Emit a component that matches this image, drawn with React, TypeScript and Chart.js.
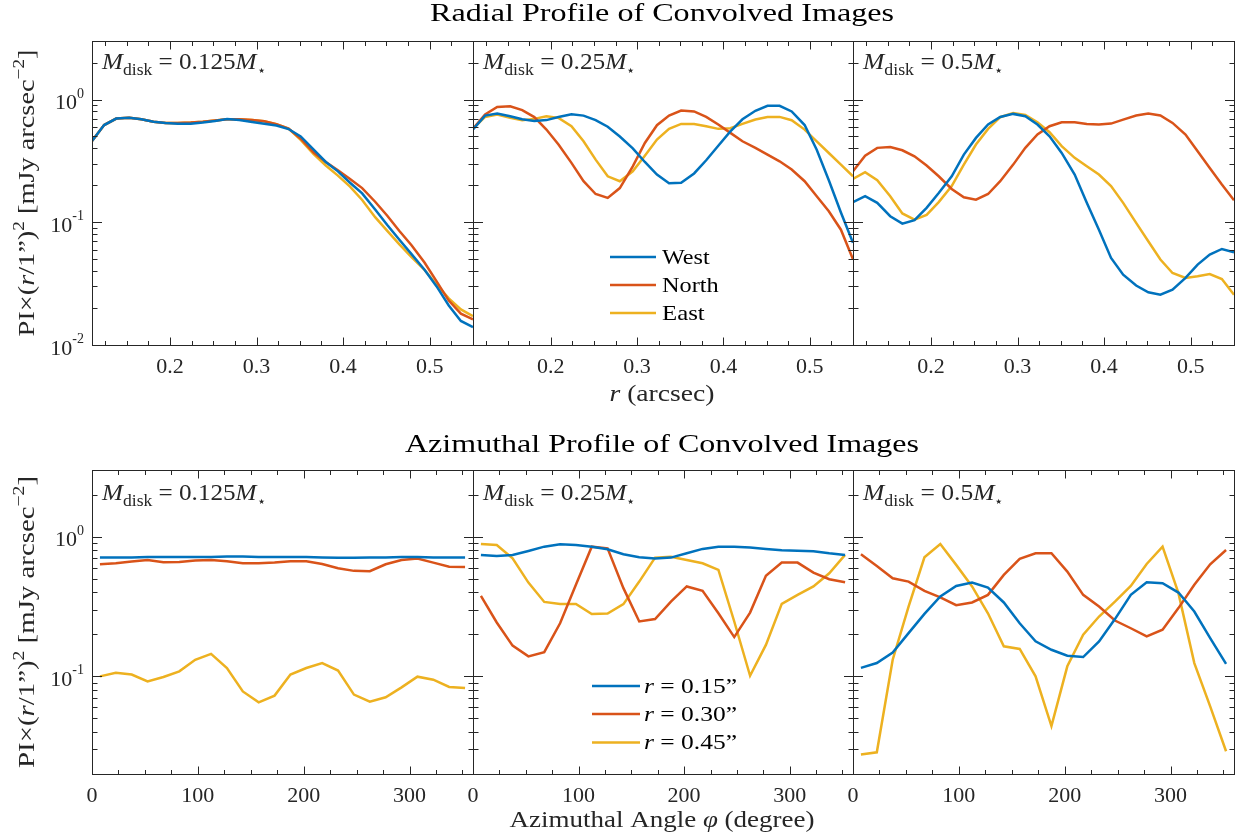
import React, { useEffect, useRef } from 'react';
import { Chart, registerables } from 'chart.js';

Chart.register(...registerables);

// ---------------- DATA ----------------
const radialX = [0.110, 0.124, 0.138, 0.153, 0.167, 0.181, 0.195, 0.209, 0.224, 0.238, 0.252, 0.266, 0.280, 0.295, 0.309, 0.323, 0.337, 0.351, 0.366, 0.380, 0.394, 0.408, 0.422, 0.437, 0.451, 0.465, 0.479, 0.494, 0.508, 0.522, 0.536, 0.550];

const west125 = [0.46, 0.62, 0.70, 0.71, 0.69, 0.66, 0.645, 0.635, 0.635, 0.65, 0.67, 0.695, 0.68, 0.655, 0.635, 0.615, 0.575, 0.50, 0.39, 0.31, 0.26, 0.21, 0.172, 0.127, 0.095, 0.072, 0.055, 0.041, 0.030, 0.021, 0.0157, 0.014];
const north125 = [0.46, 0.62, 0.70, 0.71, 0.69, 0.66, 0.645, 0.645, 0.65, 0.66, 0.675, 0.69, 0.69, 0.68, 0.665, 0.63, 0.58, 0.48, 0.37, 0.31, 0.265, 0.225, 0.19, 0.147, 0.113, 0.085, 0.065, 0.047, 0.033, 0.023, 0.018, 0.0162];
const east125 = [0.46, 0.62, 0.70, 0.71, 0.69, 0.66, 0.645, 0.645, 0.65, 0.66, 0.675, 0.69, 0.69, 0.68, 0.665, 0.63, 0.58, 0.47, 0.36, 0.29, 0.24, 0.195, 0.152, 0.11, 0.085, 0.066, 0.052, 0.041, 0.031, 0.024, 0.0195, 0.0172];

const west25 = [0.57, 0.74, 0.77, 0.73, 0.69, 0.67, 0.68, 0.72, 0.76, 0.74, 0.68, 0.60, 0.50, 0.40, 0.31, 0.245, 0.208, 0.21, 0.25, 0.32, 0.42, 0.55, 0.69, 0.81, 0.89, 0.89, 0.80, 0.62, 0.39, 0.22, 0.12, 0.068];
const north25 = [0.58, 0.755, 0.87, 0.88, 0.82, 0.72, 0.57, 0.43, 0.305, 0.216, 0.17, 0.158, 0.19, 0.286, 0.443, 0.618, 0.741, 0.814, 0.80, 0.722, 0.626, 0.535, 0.457, 0.404, 0.356, 0.314, 0.269, 0.216, 0.163, 0.123, 0.087, 0.050];
const east25 = [0.58, 0.722, 0.755, 0.709, 0.679, 0.696, 0.731, 0.709, 0.606, 0.457, 0.324, 0.237, 0.216, 0.26, 0.349, 0.472, 0.577, 0.633, 0.633, 0.606, 0.577, 0.584, 0.633, 0.687, 0.722, 0.722, 0.679, 0.569, 0.457, 0.367, 0.295, 0.237];

const west5 = [0.146, 0.163, 0.144, 0.112, 0.0975, 0.104, 0.131, 0.173, 0.237, 0.356, 0.487, 0.626, 0.722, 0.764, 0.731, 0.626, 0.502, 0.367, 0.245, 0.144, 0.087, 0.0512, 0.0374, 0.0305, 0.0269, 0.0257, 0.0282, 0.0352, 0.0452, 0.0545, 0.0606, 0.0569];
const north5 = [0.26, 0.349, 0.404, 0.411, 0.386, 0.345, 0.29, 0.237, 0.187, 0.16, 0.153, 0.17, 0.216, 0.295, 0.404, 0.519, 0.606, 0.653, 0.653, 0.633, 0.626, 0.637, 0.687, 0.741, 0.769, 0.741, 0.645, 0.519, 0.379, 0.277, 0.203, 0.151];
const east5 = [0.226, 0.256, 0.22, 0.163, 0.118, 0.105, 0.115, 0.146, 0.197, 0.295, 0.43, 0.577, 0.718, 0.778, 0.75, 0.653, 0.542, 0.417, 0.335, 0.286, 0.245, 0.197, 0.144, 0.0988, 0.070, 0.0497, 0.0386, 0.0352, 0.0363, 0.0379, 0.0345, 0.0257];

const azimuthX = [7.5, 22.5, 37.5, 52.5, 67.5, 82.5, 97.5, 112.5, 127.5, 142.5, 157.5, 172.5, 187.5, 202.5, 217.5, 232.5, 247.5, 262.5, 277.5, 292.5, 307.5, 322.5, 337.5, 352.5];

const r015_125 = [0.71, 0.71, 0.71, 0.715, 0.715, 0.715, 0.715, 0.715, 0.72, 0.72, 0.715, 0.715, 0.715, 0.715, 0.71, 0.705, 0.705, 0.71, 0.71, 0.715, 0.715, 0.71, 0.71, 0.71];
const r030_125 = [0.634, 0.645, 0.663, 0.681, 0.656, 0.659, 0.674, 0.681, 0.667, 0.645, 0.645, 0.652, 0.667, 0.667, 0.638, 0.594, 0.569, 0.566, 0.634, 0.681, 0.697, 0.652, 0.61, 0.607];
const r045_125 = [0.1, 0.106, 0.103, 0.092, 0.099, 0.1086, 0.1315, 0.145, 0.1148, 0.078, 0.0652, 0.0728, 0.103, 0.1148, 0.1245, 0.110, 0.074, 0.0659, 0.0708, 0.0834, 0.0995, 0.0947, 0.084, 0.0826];

const r015_25 = [0.74, 0.728, 0.74, 0.79, 0.848, 0.882, 0.872, 0.848, 0.812, 0.748, 0.712, 0.697, 0.708, 0.76, 0.817, 0.848, 0.848, 0.835, 0.817, 0.799, 0.794, 0.786, 0.76, 0.74];
const r030_25 = [0.377, 0.243, 0.166, 0.139, 0.149, 0.24, 0.452, 0.848, 0.825, 0.428, 0.247, 0.257, 0.343, 0.44, 0.409, 0.283, 0.191, 0.286, 0.524, 0.652, 0.652, 0.553, 0.496, 0.472];
const r045_25 = [0.886, 0.872, 0.70, 0.469, 0.341, 0.33, 0.33, 0.279, 0.282, 0.329, 0.477, 0.708, 0.719, 0.681, 0.645, 0.578, 0.247, 0.101, 0.168, 0.33, 0.383, 0.44, 0.547, 0.74];

const r015_5 = [0.115, 0.1245, 0.148, 0.204, 0.28, 0.373, 0.444, 0.469, 0.432, 0.338, 0.24, 0.178, 0.155, 0.1405, 0.1375, 0.178, 0.257, 0.383, 0.472, 0.464, 0.398, 0.291, 0.188, 0.123];
const r030_5 = [0.748, 0.617, 0.504, 0.477, 0.409, 0.367, 0.323, 0.338, 0.383, 0.532, 0.693, 0.76, 0.76, 0.562, 0.383, 0.316, 0.251, 0.221, 0.193, 0.216, 0.308, 0.452, 0.634, 0.803];
const r045_5 = [0.0276, 0.0286, 0.1315, 0.316, 0.712, 0.886, 0.628, 0.44, 0.283, 0.164, 0.157, 0.1, 0.044, 0.118, 0.199, 0.268, 0.343, 0.444, 0.638, 0.848, 0.394, 0.1245, 0.061, 0.0291];

// ticks
const radialMajorTicks = [0.2, 0.3, 0.4, 0.5];
const radialMinorTicks = [0.125, 0.15, 0.175, 0.225, 0.25, 0.275, 0.325, 0.35, 0.375, 0.425, 0.45, 0.475, 0.525];
const azimuthMajorTicks = [0, 100, 200, 300];
const azimuthMinorTicks = [25, 50, 75, 125, 150, 175, 225, 250, 275, 325, 350];
const radialLogMajor = [0.01, 0.1, 1];
const radialLogMinor = [0.02, 0.03, 0.04, 0.05, 0.06, 0.07, 0.08, 0.09, 0.2, 0.3, 0.4, 0.5, 0.6, 0.7, 0.8, 0.9, 2, 3];
const azimuthLogMajor = [0.1, 1];
const azimuthLogMinor = [0.02, 0.03, 0.04, 0.05, 0.06, 0.07, 0.08, 0.09, 0.2, 0.3, 0.4, 0.5, 0.6, 0.7, 0.8, 0.9, 2, 3];
const logTickExp: Record<string, string> = { '0.01': '-2', '0.1': '-1', '1': '0' };

const radialSeriesNames = ['West', 'North', 'East'];
const azimuthSeriesNames = ['0.15”', '0.30”', '0.45”'];
const diskMasses = ['0.125', '0.25', '0.5'];

const radialPanels = [
  [west125, north125, east125],
  [west25, north25, east25],
  [west5, north5, east5],
];
const azimuthPanels = [
  [r015_125, r030_125, r045_125],
  [r015_25, r030_25, r045_25],
  [r015_5, r030_5, r045_5],
];

// ---------------- STYLE / LAYOUT ----------------
const COLORS = ['#0072BD', '#D95319', '#EDB120'];
const AXIS = '#262626';
const FONT = "'Liberation Serif', 'DejaVu Serif', serif";
const COLS = [[92, 473], [473, 853], [853, 1234]];
const ROWS = [[41, 345], [470, 774]];

type Seg = { t: string; it?: boolean; sup?: boolean; sub?: boolean; k?: number };

function segFont(s: Seg, size: number) {
  const sz = size * (s.k ?? (s.sup || s.sub ? 0.68 : 1));
  return `${s.it ? 'italic ' : ''}${sz}px ${FONT}`;
}

function drawRich(ctx: CanvasRenderingContext2D, segs: Seg[], x: number, y: number, size: number, align: 'left' | 'center' | 'right', targetW?: number) {
  ctx.save();
  let total = 0;
  const ws = segs.map((s) => {
    ctx.font = segFont(s, size);
    const w = ctx.measureText(s.t).width;
    total += w;
    return w;
  });
  const k = targetW ? targetW / total : 1;
  const w = total * k;
  const x0 = align === 'left' ? x : align === 'center' ? x - w / 2 : x - w;
  ctx.translate(x0, y);
  ctx.scale(k, 1);
  ctx.textAlign = 'left';
  ctx.textBaseline = 'alphabetic';
  let cx = 0;
  segs.forEach((s, i) => {
    ctx.font = segFont(s, size);
    const dy = s.sup ? -size * 0.42 : s.sub ? size * 0.25 : 0;
    ctx.fillText(s.t, cx, dy);
    cx += ws[i];
  });
  ctx.restore();
}

type PanelDef = { row: number; col: number; left: number; right: number; top: number; bottom: number };
const PANELS: PanelDef[] = [];
for (let r = 0; r < 2; r++) for (let c = 0; c < 3; c++) PANELS.push({ row: r, col: c, left: COLS[c][0], right: COLS[c][1], top: ROWS[r][0], bottom: ROWS[r][1] });

const figurePlugin = {
  id: 'figurePlugin',
  afterLayout(chart: any) {
    PANELS.forEach((p, i) => {
      const xs = chart.scales['x' + i];
      const ys = chart.scales['y' + i];
      Object.assign(xs, { left: p.left, right: p.right, top: p.bottom, bottom: p.bottom, width: p.right - p.left, height: 0 });
      xs.configure();
      Object.assign(ys, { left: p.left, right: p.left, top: p.top, bottom: p.bottom, width: 0, height: p.bottom - p.top });
      ys.configure();
    });
  },
  afterDatasetsDraw(chart: any) {
    const ctx: CanvasRenderingContext2D = chart.ctx;
    ctx.save();
    ctx.strokeStyle = AXIS;
    ctx.fillStyle = AXIS;
    ctx.lineWidth = 1;
    PANELS.forEach((p, i) => {
      const xs = chart.scales['x' + i];
      const ys = chart.scales['y' + i];
      const radial = p.row === 0;
      const xMaj = radial ? radialMajorTicks : azimuthMajorTicks;
      const xMin = radial ? radialMinorTicks : azimuthMinorTicks;
      const yMaj = radial ? radialLogMajor : azimuthLogMajor;
      const yMin = radial ? radialLogMinor : azimuthLogMinor;
      ctx.strokeStyle = AXIS;
      ctx.fillStyle = AXIS;
      ctx.lineWidth = 1;
      ctx.strokeRect(p.left + 0.5, p.top + 0.5, p.right - p.left, p.bottom - p.top);
      ctx.beginPath();
      const xt = (v: number, len: number) => {
        const px = Math.round(xs.getPixelForValue(v)) + 0.5;
        ctx.moveTo(px, p.bottom + 0.5); ctx.lineTo(px, p.bottom + 0.5 - len);
        ctx.moveTo(px, p.top + 0.5); ctx.lineTo(px, p.top + 0.5 + len);
      };
      const yt = (v: number, len: number) => {
        const py = Math.round(ys.getPixelForValue(v)) + 0.5;
        ctx.moveTo(p.left + 0.5, py); ctx.lineTo(p.left + 0.5 + len, py);
        ctx.moveTo(p.right + 0.5, py); ctx.lineTo(p.right + 0.5 - len, py);
      };
      xMaj.forEach((v) => xt(v, 8));
      xMin.forEach((v) => xt(v, 4.5));
      yMaj.forEach((v) => yt(v, 9.5));
      yMin.forEach((v) => yt(v, 5));
      ctx.stroke();
      xMaj.forEach((v) => {
        const px = xs.getPixelForValue(v);
        drawRich(ctx, [{ t: String(v) }], px, p.bottom + 28, 22, 'center');
      });
      if (p.col === 0) {
        yMaj.forEach((v) => {
          const py = ys.getPixelForValue(v);
          ctx.save();
          ctx.font = `14px ${FONT}`;
          const ew = ctx.measureText(logTickExp[String(v)]).width;
          ctx.textAlign = 'right';
          ctx.fillText(logTickExp[String(v)], p.left - 8, py - 2);
          ctx.font = `22px ${FONT}`;
          ctx.fillText('10', p.left - 8 - ew, py + 9.5);
          ctx.restore();
        });
      }
      const m = diskMasses[p.col];
      const annW = [164, 153, 141][p.col];
      drawRich(ctx, [
        { t: 'M', it: true },
        { t: 'disk', sub: true, k: 0.7 },
        { t: ' = ' + m },
        { t: 'M', it: true },
        { t: '⋆', sub: true, k: 0.6 },
      ], p.left + 10, p.top + (radial ? 28 : 30), 24, 'left', annW);
    });

    const lp = PANELS[1];
    const lq = PANELS[4];
    const legendTop = [257, 285, 313];
    const legendTopW = [47.7, 56.7, 42.7];
    radialSeriesNames.forEach((name, k) => {
      ctx.strokeStyle = COLORS[k];
      ctx.lineWidth = 2.5;
      ctx.beginPath();
      ctx.moveTo(lp.left + 137, legendTop[k]);
      ctx.lineTo(lp.left + 183, legendTop[k]);
      ctx.stroke();
      ctx.fillStyle = '#000';
      drawRich(ctx, [{ t: name }], lp.left + 189, legendTop[k] + 6.5, 22, 'left', legendTopW[k]);
    });
    const legendBot = [686, 714, 742.5];
    azimuthSeriesNames.forEach((name, k) => {
      ctx.strokeStyle = COLORS[k];
      ctx.lineWidth = 2.5;
      ctx.beginPath();
      ctx.moveTo(lq.left + 119, legendBot[k]);
      ctx.lineTo(lq.left + 167, legendBot[k]);
      ctx.stroke();
      ctx.fillStyle = '#000';
      drawRich(ctx, [{ t: 'r', it: true }, { t: ' = ' + name }], lq.left + 171, legendBot[k] + 6.5, 22, 'left', 93);
    });

    ctx.fillStyle = '#000';
    drawRich(ctx, [{ t: 'Radial Profile of Convolved Images' }], 662, 21, 26, 'center', 464);
    drawRich(ctx, [{ t: 'Azimuthal Profile of Convolved Images' }], 662, 452, 26, 'center', 514);
    ctx.fillStyle = AXIS;
    drawRich(ctx, [{ t: 'r', it: true }, { t: ' (arcsec)' }], 662, 401, 24, 'center', 105);
    drawRich(ctx, [{ t: 'Azimuthal Angle ' }, { t: 'φ', it: true }, { t: ' (degree)' }], 662, 827, 24, 'center', 305);
    const yLab: Seg[] = [
      { t: 'PI×(' }, { t: 'r', it: true }, { t: '/1”)' }, { t: '2', sup: true },
      { t: ' [mJy arcsec' }, { t: '−2', sup: true }, { t: ']' },
    ];
    [[193, 287], [622, 292]].forEach(([cy, w]) => {
      ctx.save();
      ctx.translate(34, cy);
      ctx.rotate(-Math.PI / 2);
      drawRich(ctx, yLab, 0, 0, 24, 'center', w);
      ctx.restore();
    });
    ctx.restore();
  },
};

export default function App() {
  const ref = useRef<HTMLCanvasElement | null>(null);
  useEffect(() => {
    if (!ref.current) return;
    const datasets: any[] = [];
    const scales: any = {};
    PANELS.forEach((p, i) => {
      const radial = p.row === 0;
      scales['x' + i] = { type: 'linear', position: 'bottom', display: false, min: radial ? 0.11 : 0, max: radial ? 0.55 : 360, bounds: 'data' };
      scales['y' + i] = { type: 'logarithmic', position: 'left', display: false, min: radial ? 0.01 : 0.02, max: 3, bounds: 'data' };
      const xsData = radial ? radialX : azimuthX;
      const series = radial ? radialPanels[p.col] : azimuthPanels[p.col];
      const names = radial ? radialSeriesNames : azimuthSeriesNames;
      series.forEach((vals, k) => {
        datasets.push({
          label: names[k] + ' ' + i,
          data: xsData.map((x, j) => ({ x, y: vals[j] })),
          xAxisID: 'x' + i,
          yAxisID: 'y' + i,
          borderColor: COLORS[k],
          backgroundColor: COLORS[k],
          borderWidth: 2.5,
          pointRadius: 0,
          fill: false,
          tension: 0,
        });
      });
    });
    const chart = new Chart(ref.current, {
      type: 'line',
      data: { datasets },
      options: {
        responsive: false,
        animation: false,
        events: [],
        layout: { padding: 0 },
        plugins: { legend: { display: false }, tooltip: { enabled: false } },
        scales,
      } as any,
      plugins: [figurePlugin as any],
    });
    return () => chart.destroy();
  }, []);
  return (
    <div style={{ position: 'absolute', left: 0, top: 0, width: 1242, height: 840, background: '#fff' }}>
      <canvas ref={ref} width={1242} height={840} style={{ display: 'block' }} />
    </div>
  );
}
